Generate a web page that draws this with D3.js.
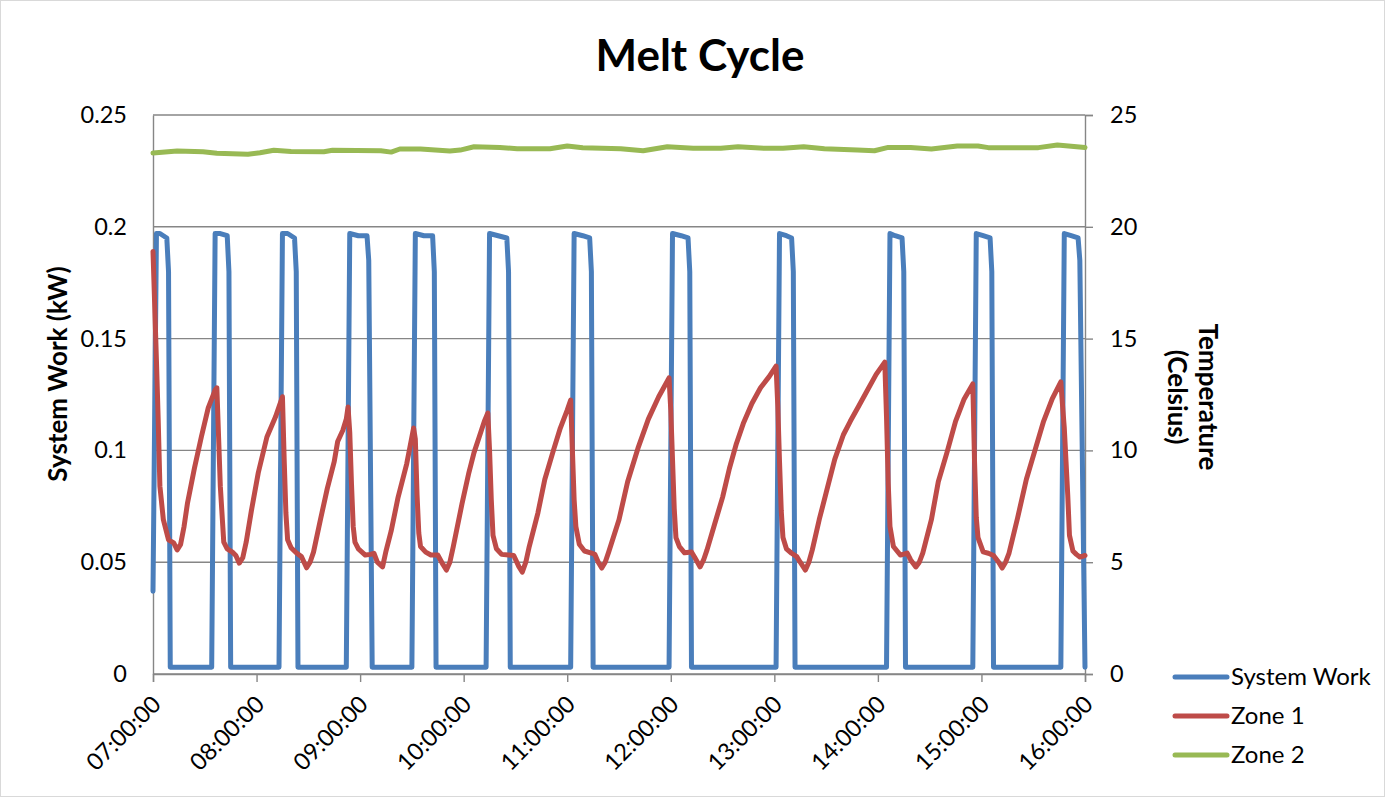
<!DOCTYPE html>
<html>
<head>
<meta charset="utf-8">
<script src="https://cdn.jsdelivr.net/npm/d3@7/dist/d3.min.js"></script>
<style>
  body { margin: 0; background: #fff; }
  svg text { font-family: Lato, "Liberation Sans", sans-serif; fill: #000; }
</style>
</head>
<body>
<div id="chart"></div>
<script>
// System Work (kW), left axis
const workTimes = ["07:00","07:02","07:04","07:06","07:08","07:09","07:10","07:34","07:36","07:39","07:43","07:44","07:45",
  "08:13","08:15","08:18","08:22","08:23","08:24","08:52","08:54","08:59","09:04","09:05","09:07",
  "09:30","09:32","09:37","09:42","09:43","09:44","10:13","10:15","10:20","10:25","10:26","10:27",
  "11:02","11:04","11:09","11:13","11:14","11:15","11:59","12:01","12:06","12:10","12:11","12:12",
  "13:01","13:03","13:07","13:10","13:11","13:12","14:05","14:07","14:10","14:14","14:15","14:16",
  "14:55","14:57","15:01","15:05","15:06","15:07","15:46","15:48","15:52","15:56","15:57","16:00"];
const workValues = [0.037,0.197,0.197,0.196,0.195,0.180,0.003,0.003,0.197,0.197,0.196,0.180,0.003,
  0.003,0.197,0.197,0.195,0.180,0.003,0.003,0.197,0.196,0.196,0.185,0.003,
  0.003,0.197,0.196,0.196,0.180,0.003,0.003,0.197,0.196,0.195,0.180,0.003,
  0.003,0.197,0.196,0.195,0.180,0.003,0.003,0.197,0.196,0.195,0.180,0.003,
  0.003,0.197,0.196,0.195,0.180,0.003,0.003,0.197,0.196,0.195,0.180,0.003,
  0.003,0.197,0.196,0.195,0.180,0.003,0.003,0.197,0.196,0.195,0.185,0.003];

// Zone 1 temperature (Celsius), right axis
const zone1Times = ["07:00","07:02","07:03","07:04","07:06","07:09","07:12","07:14","07:16","07:18","07:20","07:24","07:28","07:32","07:36","07:37",
  "07:38","07:39","07:41","07:43","07:46","07:48","07:50","07:52","07:54","07:57","08:01","08:06","08:11","08:15",
  "08:16","08:17","08:18","08:20","08:23","08:26","08:29","08:31","08:33","08:37","08:41","08:45","08:47","08:50","08:52","08:53",
  "08:54","08:55","08:56","08:57","08:59","09:03","09:06","09:08","09:10","09:13","09:15","09:18","09:22","09:27","09:29","09:31",
  "09:32","09:33","09:34","09:35","09:38","09:41","09:45","09:48","09:50","09:52","09:54","09:59","10:03","10:06","10:09","10:12","10:14",
  "10:15","10:16","10:17","10:19","10:22","10:26","10:29","10:32","10:34","10:36","10:38","10:43","10:47","10:52","10:56","11:00","11:02",
  "11:03","11:04","11:05","11:07","11:10","11:14","11:16","11:18","11:20","11:22","11:24","11:30","11:35","11:41","11:47","11:53","11:59",
  "12:00","12:01","12:02","12:03","12:05","12:08","12:12","12:14","12:17","12:19","12:21","12:25","12:30","12:34","12:38","12:42","12:47","12:52","12:57","13:01",
  "13:02","13:03","13:04","13:05","13:07","13:10","13:13","13:15","13:18","13:20","13:22","13:26","13:30","13:35","13:40","13:44","13:49","13:54","13:59","14:04",
  "14:05","14:06","14:07","14:09","14:13","14:17","14:19","14:22","14:24","14:26","14:31","14:35","14:40","14:45","14:50","14:55",
  "14:56","14:57","14:58","15:01","15:04","15:07","15:10","15:12","15:14","15:16","15:21","15:26","15:31","15:36","15:41","15:46",
  "15:47","15:48","15:49","15:50","15:51","15:53","15:55","15:57","16:00"];
const zone1Values = [18.9,14.0,11.4,8.4,6.9,6.0,5.86,5.55,5.8,6.6,7.65,9.2,10.6,11.9,12.7,12.8,
  10.6,8.4,5.9,5.6,5.45,5.3,4.96,5.2,5.9,7.3,9.0,10.6,11.5,12.4,
  9.6,7.2,6.0,5.65,5.42,5.25,4.75,5.0,5.45,6.9,8.3,9.5,10.4,10.9,11.4,11.94,
  10.8,8.5,6.6,5.9,5.6,5.32,5.35,5.4,5.0,4.79,5.5,6.4,7.9,9.4,10.2,11.0,
  10.5,8.0,6.3,5.7,5.45,5.32,5.32,4.9,4.65,5.0,5.7,7.6,9.0,9.9,10.6,11.3,11.67,
  10.0,7.8,6.2,5.6,5.35,5.32,5.3,4.8,4.56,5.0,5.7,7.2,8.7,10.0,11.0,11.8,12.25,
  10.0,7.8,6.6,5.8,5.5,5.41,5.35,5.0,4.74,5.0,5.45,6.9,8.6,10.1,11.4,12.4,13.24,
  11.8,9.6,7.4,6.1,5.7,5.42,5.46,5.2,4.79,5.1,5.55,6.6,7.9,9.2,10.3,11.2,12.1,12.8,13.3,13.77,
  12.0,9.5,7.3,6.1,5.6,5.4,5.25,5.0,4.65,5.0,5.55,6.9,8.1,9.6,10.7,11.3,12.0,12.7,13.4,13.95,
  11.5,8.5,6.6,5.7,5.32,5.41,5.1,4.79,5.0,5.41,6.9,8.6,9.9,11.3,12.3,12.97,
  9.5,7.0,6.1,5.46,5.4,5.3,5.0,4.74,5.0,5.41,7.0,8.7,10.0,11.3,12.3,13.06,
  12.0,11.0,9.5,8.0,6.2,5.5,5.35,5.23,5.3];

// Zone 2 temperature (Celsius), right axis
const zone2Times = ["07:00","07:14","07:29","07:37","07:55","08:02","08:10","08:20","08:39","08:44","09:12","09:18","09:23","09:35",
  "09:52","09:58","10:06","10:21","10:31","10:50","11:00","11:09","11:31","11:44","11:58","12:13","12:29","12:39","12:54",
  "13:05","13:17","13:29","13:48","13:58","14:06","14:19","14:31","14:46","14:58","15:04","15:17","15:33","15:44","16:00"];
const zone2Values = [23.30,23.39,23.36,23.29,23.24,23.31,23.42,23.37,23.36,23.42,23.40,23.34,23.48,23.48,
  23.39,23.43,23.58,23.55,23.49,23.49,23.61,23.54,23.49,23.40,23.58,23.51,23.51,23.58,23.51,
  23.51,23.58,23.49,23.43,23.40,23.55,23.55,23.48,23.61,23.61,23.54,23.54,23.54,23.66,23.55];

const seriesNames = ["System Work", "Zone 1", "Zone 2"];
const seriesColors = ["#4a7ebb", "#be4b48", "#98b954"];
const leftTicks = [0, 0.05, 0.1, 0.15, 0.2, 0.25];
const rightTicks = [0, 5, 10, 15, 20, 25];

const width = 1386, height = 798;
const plot = {left: 153, right: 1085, top: 115, bottom: 674};
const parseTime = d3.timeParse("%H:%M");

const svg = d3.select("#chart").append("svg")
  .attr("width", width)
  .attr("height", height);

// chart border
svg.append("rect")
  .attr("x", 0.5).attr("y", 0.5)
  .attr("width", width - 2).attr("height", height - 2)
  .attr("fill", "#fff")
  .attr("stroke", "#d9d9d9");

const x = d3.scaleTime()
  .domain([parseTime("07:00"), parseTime("16:00")])
  .range([plot.left, plot.right]);
const yLeft = d3.scaleLinear().domain([0, 0.25]).range([plot.bottom, plot.top]);
const yRight = d3.scaleLinear().domain([0, 25]).range([plot.bottom, plot.top]);

// horizontal gridlines
svg.append("g")
  .selectAll("line")
  .data(leftTicks)
  .join("line")
  .attr("x1", plot.left).attr("x2", plot.right)
  .attr("y1", (d) => yLeft(d)).attr("y2", (d) => yLeft(d))
  .attr("stroke", "#868686")
  .attr("stroke-width", 1.4);

// left axis (labels only)
const leftAxis = svg.append("g")
  .attr("transform", `translate(${plot.left},0)`)
  .call(d3.axisLeft(yLeft).tickValues(leftTicks).tickSize(0).tickPadding(26).tickFormat(d3.format("~g")));
leftAxis.select(".domain").attr("stroke", "#868686").attr("stroke-width", 1.4);

// right axis with outer ticks
const rightAxis = svg.append("g")
  .attr("transform", `translate(${plot.right},0)`)
  .call(d3.axisRight(yRight).tickValues(rightTicks).tickSize(8).tickPadding(17));
rightAxis.selectAll("line").attr("stroke", "#868686").attr("stroke-width", 1.4);
rightAxis.select(".domain").attr("stroke", "#868686").attr("stroke-width", 1.4);

// x axis
const xAxis = svg.append("g")
  .attr("transform", `translate(0,${plot.bottom})`)
  .call(d3.axisBottom(x).ticks(d3.timeHour.every(1)).tickSize(8).tickFormat(d3.timeFormat("%H:%M:%S")));
xAxis.selectAll("line").attr("stroke", "#868686").attr("stroke-width", 1.4);
xAxis.select(".domain").attr("stroke", "#868686").attr("stroke-width", 1.4);
xAxis.selectAll("text")
  .attr("x", 0).attr("y", 0).attr("dy", "0.35em")
  .attr("transform", "translate(3,26) rotate(-45)")
  .style("text-anchor", "end");

svg.selectAll(".tick text").attr("font-size", 23.5).attr("fill", "#000");
svg.selectAll("g").filter(function() { return this.getAttribute("font-family"); })
  .attr("font-family", null);

// lines
function drawSeries(times, values, yScale, color) {
  const pts = times.map((t, i) => [parseTime(t), values[i]]);
  svg.append("path")
    .datum(pts)
    .attr("fill", "none")
    .attr("stroke", color)
    .attr("stroke-width", 5)
    .attr("stroke-linejoin", "round")
    .attr("stroke-linecap", "round")
    .attr("d", d3.line().x((d) => x(d[0])).y((d) => yScale(d[1])));
}
drawSeries(zone2Times, zone2Values, yRight, seriesColors[2]);
drawSeries(workTimes, workValues, yLeft, seriesColors[0]);
drawSeries(zone1Times, zone1Values, yRight, seriesColors[1]);

// title
svg.append("text")
  .attr("x", 700).attr("y", 71)
  .attr("text-anchor", "middle")
  .attr("font-size", 44)
  .attr("font-weight", "bold")
  .text("Melt Cycle");

// left axis title
svg.append("text")
  .attr("transform", "translate(67,374) rotate(-90)")
  .attr("text-anchor", "middle")
  .attr("font-size", 26)
  .attr("font-weight", "bold")
  .text("System Work (kW)");

// right axis title (two lines, reading downward)
const rTitle = svg.append("text")
  .attr("transform", "translate(1191,397) rotate(90)")
  .attr("text-anchor", "middle")
  .attr("font-size", 26)
  .attr("font-weight", "bold");
rTitle.append("tspan").attr("x", 0).attr("dy", "-0.3em").text("Temperature");
rTitle.append("tspan").attr("x", 0).attr("dy", "1.2em").text("(Celsius)");

// legend
const legend = svg.append("g").attr("transform", "translate(1175,677)");
seriesNames.forEach((name, i) => {
  const row = legend.append("g").attr("transform", `translate(0,${i * 39})`);
  row.append("line")
    .attr("x1", 0).attr("x2", 52)
    .attr("stroke", seriesColors[i])
    .attr("stroke-width", 5)
    .attr("stroke-linecap", "round");
  row.append("text")
    .attr("x", 56).attr("dy", "0.35em")
    .attr("font-size", 24)
    .text(name);
});
</script>
</body>
</html>
